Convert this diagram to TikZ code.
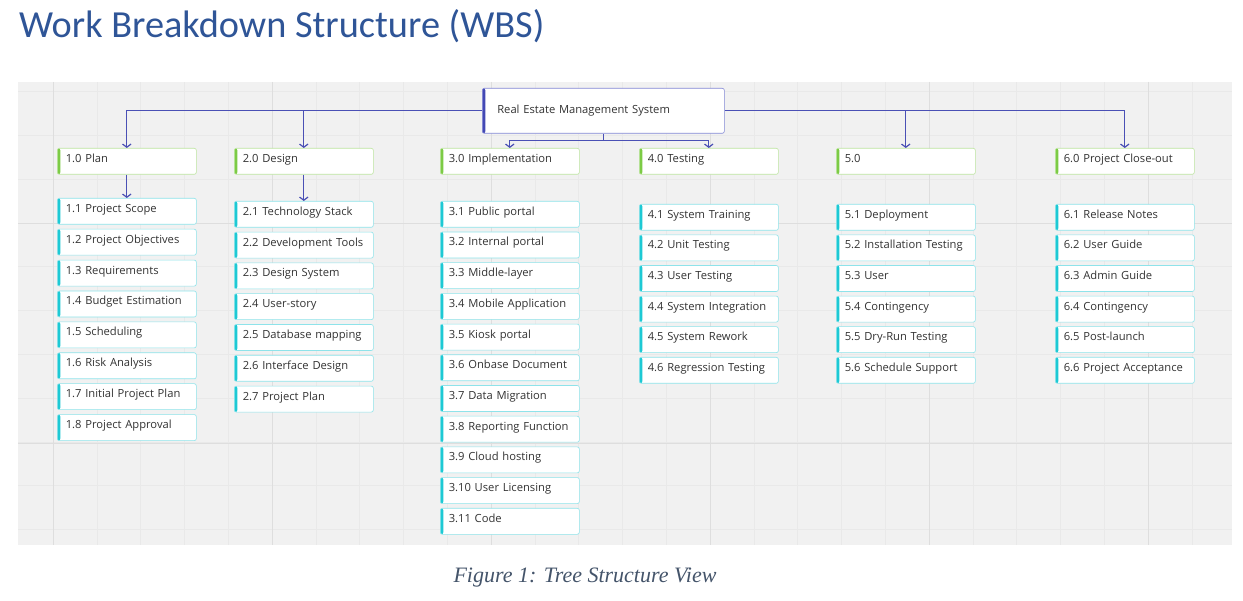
\documentclass[tikz,border=0pt]{standalone}
\usepackage{fontspec}
\setmainfont{Open Sans}
\newfontfamily\titlefont{Carlito}
\newfontfamily\captionfont{Liberation Serif}
\usetikzlibrary{arrows.meta}
\definecolor{leafbar}{HTML}{1DC9D4}
\definecolor{leafline}{HTML}{8EE3EA}
\definecolor{headbar}{HTML}{7CCB45}
\definecolor{headline}{HTML}{BDE5A0}
\definecolor{rootbar}{HTML}{4348B4}
\definecolor{rootline}{HTML}{8388D6}
\definecolor{linkblue}{HTML}{4A50B5}
\definecolor{panelbg}{HTML}{F1F1F1}
\definecolor{gridminor}{HTML}{E9E9E9}
\definecolor{gridmajor}{HTML}{DEDEDE}
\definecolor{titleblue}{HTML}{2F5597}
\definecolor{capgray}{HTML}{44546A}
\definecolor{textgray}{HTML}{333333}

\begin{document}
\begin{tikzpicture}[
  x=1pt, y=-1pt,
  every node/.style={font=\fontsize{11.2}{13}\selectfont, text=textgray},
  bar/.style={path picture={\fill[#1] (path picture bounding box.north west)
              rectangle ([xshift=3pt]path picture bounding box.south west);}},
  box/.style={fill=white, rounded corners=2pt, line width=0.6pt, anchor=north west,
              text width=129pt, align=left, inner xsep=5pt, inner ysep=1.5pt,
              text height=12.5pt, text depth=10.5pt},
  inset/.style={execute at begin node={\hspace*{3.5pt}}},
  leaf/.style={box, inset, draw=leafline, bar=leafbar},
  head/.style={box, inset, draw=headline, bar=headbar},
  rootbox/.style={box, draw=rootline, bar=rootbar, text width=212pt, inner xsep=15pt,
              text height=9pt, text depth=3pt, inner ysep=3pt, minimum height=45pt},
  link/.style={-{Straight Barb[length=3.2pt,width=8.5pt]}, line width=1.2pt, draw=linkblue},
]
  \useasboundingbox (0,0) rectangle (1243,601);

  % board
  \fill[panelbg] (18,82) rectangle (1232,545);
  \begin{scope}
    \clip (18,82) rectangle (1232,545);
    \foreach \k in {-1,...,27}
      \draw[gridminor, line width=0.6pt] ({53+43.8*\k},82) -- ({53+43.8*\k},545);
    \foreach \k in {0,...,10}
      \draw[gridminor, line width=0.6pt] (18,{91.6+43.8*\k}) -- (1232,{91.6+43.8*\k});
    \foreach \k in {0,...,5}
      \draw[gridmajor, line width=0.8pt] ({53+219*\k},82) -- ({53+219*\k},545);
    \foreach \k in {0,1}
      \draw[gridmajor, line width=0.8pt] (18,{223+220*\k}) -- (1232,{223+220*\k});
  \end{scope}

  \node[anchor=base west, inner sep=0, text=titleblue,
        font=\titlefont\fontsize{38.3}{42}\selectfont] (title) at (19,38)
        {Work Breakdown Structure (WBS)};

  \node[rootbox] (rems) at (482,88) {Real Estate Management System};

  \node[head] (p0) at (57,148) {1.0 Plan};
  \node[head] (d0) at (234,148) {2.0 Design};
  \node[head] (i0) at (440,148) {3.0 Implementation};
  \node[head] (t0) at (639,148) {4.0 Testing};
  \node[head] (r0) at (836,148) {5.0};
  \node[head] (c0) at (1055,148) {6.0 Project Close-out};

  \foreach \t [count=\i] in {Project Scope,Project Objectives,Requirements,
      Budget Estimation,Scheduling,Risk Analysis,Initial Project Plan,Project Approval}
    \node[leaf] (p\i) at (57,{198+30.9*(\i-1)}) {1.\i\ \t};
  \foreach \t [count=\i] in {Technology Stack,Development Tools,Design System,
      User-story,Database mapping,Interface Design,Project Plan}
    \node[leaf] (d\i) at (234,{201+30.8*(\i-1)}) {2.\i\ \t};
  \foreach \t [count=\i] in {Public portal,Internal portal,Middle-layer,
      Mobile Application,Kiosk portal,Onbase Document,Data Migration,
      Reporting Function,Cloud hosting,User Licensing,Code}
    \node[leaf] (i\i) at (440,{201+30.7*(\i-1)}) {3.\i\ \t};
  \foreach \t [count=\i] in {System Training,Unit Testing,User Testing,
      System Integration,System Rework,Regression Testing}
    \node[leaf] (t\i) at (639,{204+30.6*(\i-1)}) {4.\i\ \t};
  \foreach \t [count=\i] in {Deployment,Installation Testing,User,
      Contingency,Dry-Run Testing,Schedule Support}
    \node[leaf] (r\i) at (836,{204+30.6*(\i-1)}) {5.\i\ \t};
  \foreach \t [count=\i] in {Release Notes,User Guide,Admin Guide,
      Contingency,Post-launch,Project Acceptance}
    \node[leaf] (c\i) at (1055,{204+30.6*(\i-1)}) {6.\i\ \t};

  \draw[link] (rems.west) -| (p0.north);
  \draw[link] (rems.west -| d0.north) -- (d0.north);
  \draw[link] (rems.east) -| (c0.north);
  \draw[link] (rems.east -| r0.north) -- (r0.north);
  \draw[link] (rems.south) -- ++(0,7) coordinate (fork) -| (i0.north);
  \draw[link] (fork) -| (t0.north);
  \draw[link] (p0) -- (p1);
  \draw[link] (d0) -- (d1);

  \node[anchor=base, inner sep=0, text=capgray,
        font=\captionfont\itshape\fontsize{22}{26}\selectfont] (cap) at (585,582)
        {Figure 1: Tree Structure View};
\end{tikzpicture}
\end{document}
